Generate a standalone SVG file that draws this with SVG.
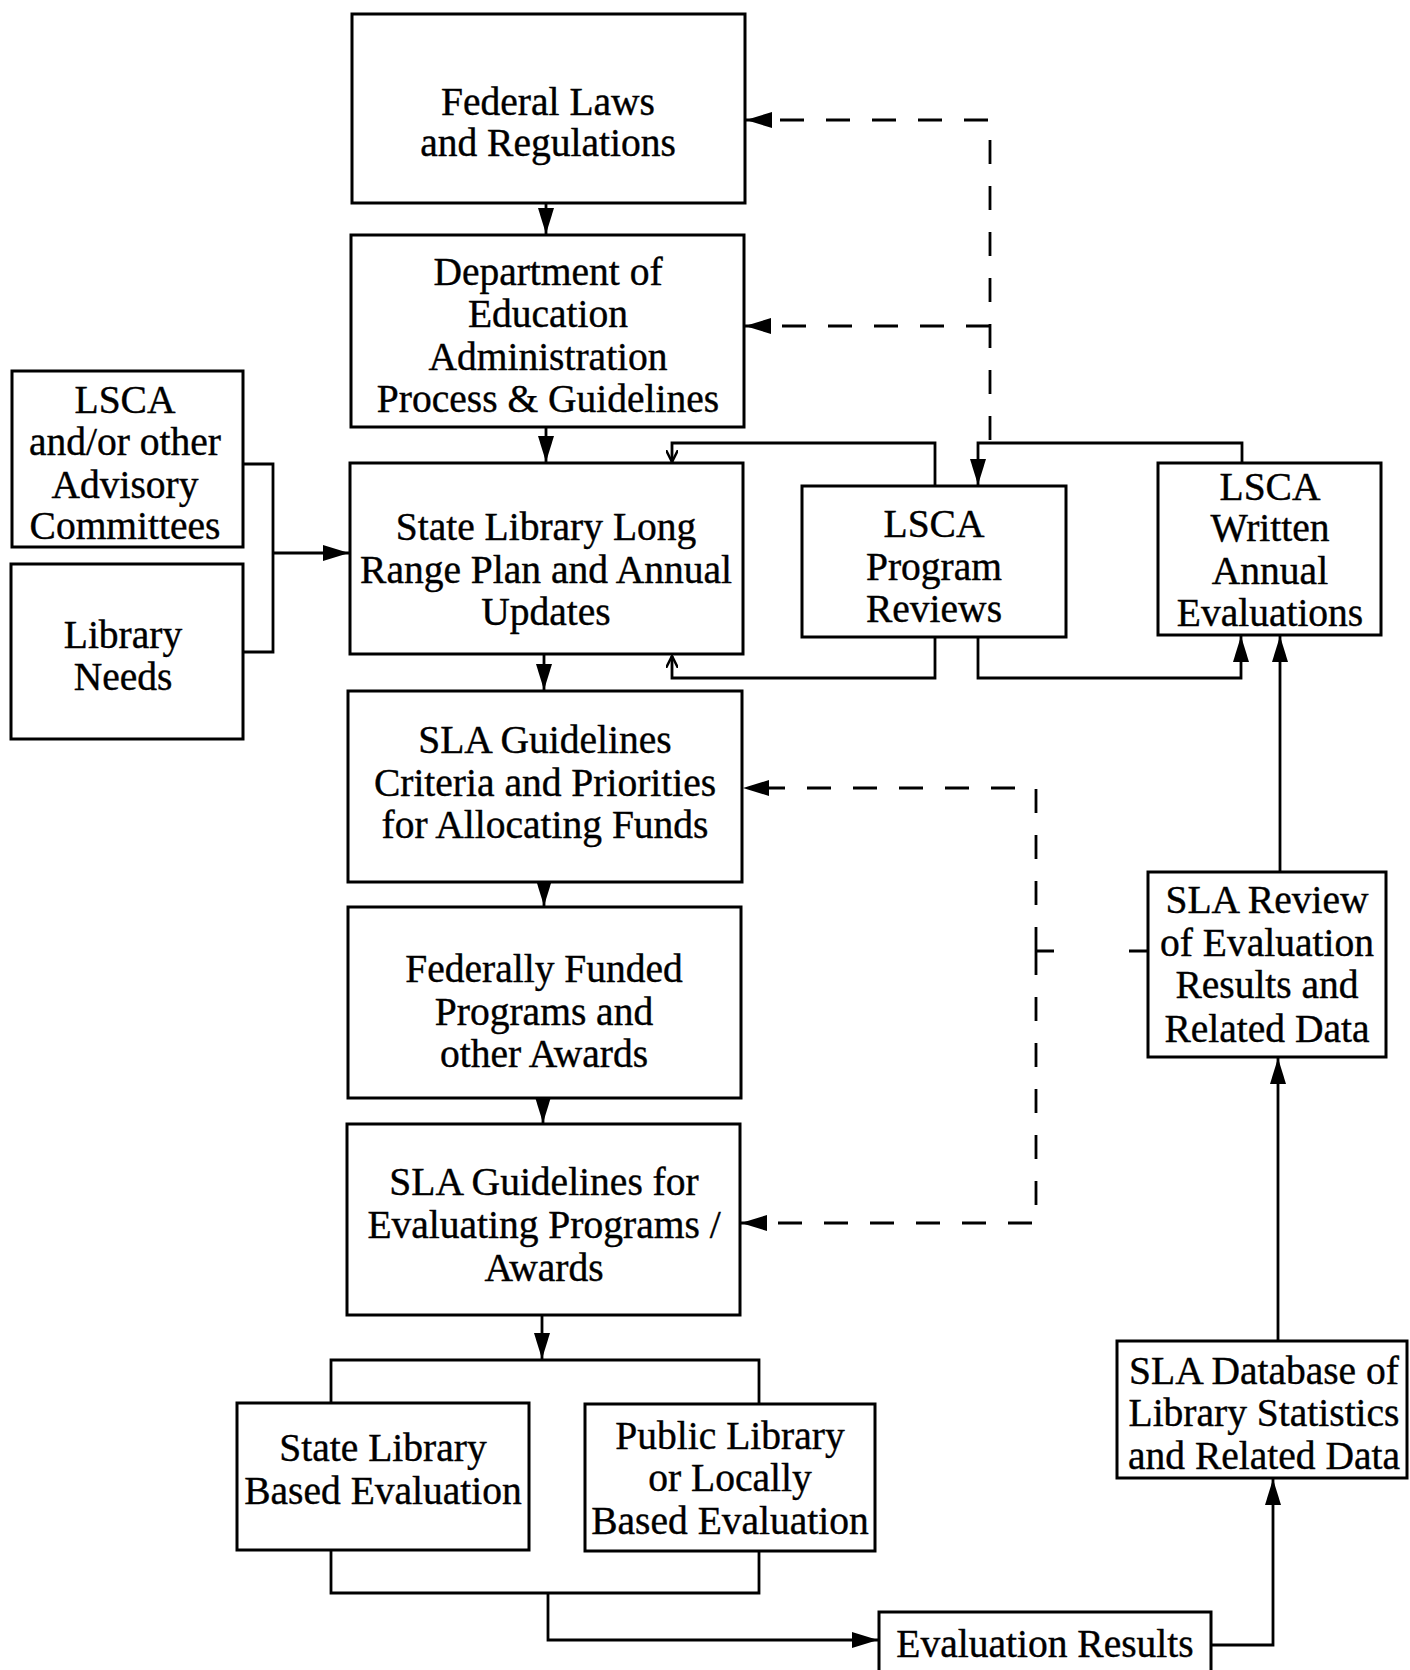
<svg xmlns="http://www.w3.org/2000/svg" width="1410" height="1670" viewBox="0 0 1410 1670">
<style>
.box{fill:#fff;stroke:#000;stroke-width:3}
.t{font-family:"Liberation Serif","Times New Roman",serif;font-size:39.5px;fill:#000;stroke:#000;stroke-width:0.4;text-anchor:middle}
.c{fill:none;stroke:#000;stroke-width:2.8}
.d{fill:none;stroke:#000;stroke-width:2.8;stroke-dasharray:24 22}
</style>
<defs>
<marker id="a" markerUnits="userSpaceOnUse" markerWidth="28" markerHeight="18" refX="26" refY="8" orient="auto">
<path d="M0,0 L26,8 L0,16 z" fill="#000"/>
</marker>
<marker id="s" markerUnits="userSpaceOnUse" markerWidth="14" markerHeight="12" refX="12" refY="6" orient="auto">
<path d="M0,0 L12,6 L0,12" fill="none" stroke="#000" stroke-width="2.5"/>
</marker>
</defs>
<rect width="1410" height="1670" fill="#fff"/>
<g id="connectors">
<path class="c" d="M546 203 V234" marker-end="url(#a)"/>
<path class="c" d="M546 427 V462" marker-end="url(#a)"/>
<path class="c" d="M544 654 V690" marker-end="url(#a)"/>
<path class="c" d="M544 882 V906" marker-end="url(#a)"/>
<path class="c" d="M543 1098 V1123" marker-end="url(#a)"/>
<path class="c" d="M542 1315 V1359" marker-end="url(#a)"/>
<path class="c" d="M331 1403 V1360 H759 V1404"/>
<path class="c" d="M331 1550 V1593 H759 V1551"/>
<path class="c" d="M548 1593 V1640 H878" marker-end="url(#a)"/>
<path class="c" d="M1211 1645 H1273 V1479" marker-end="url(#a)"/>
<path class="c" d="M1278 1341 V1058" marker-end="url(#a)"/>
<path class="c" d="M1280 872 V636" marker-end="url(#a)"/>
<path class="c" d="M243 464 H273 V652 H243"/>
<path class="c" d="M273 553 H349" marker-end="url(#a)"/>
<path class="c" d="M935 486 V443 H672 V462" marker-end="url(#s)"/>
<path class="c" d="M935 637 V678 H672 V656" marker-end="url(#s)"/>
<path class="c" d="M978 637 V678 H1241 V636" marker-end="url(#a)"/>
<path class="c" d="M1242 463 V443 H978 V485" marker-end="url(#a)"/>
<path class="d" d="M990 440 V120 H746" marker-end="url(#a)"/>
<path class="d" d="M990 326 H745" marker-end="url(#a)"/>
<path class="d" d="M1036 951 V788 H743" marker-end="url(#a)"/>
<path class="d" d="M1036 951 V1223 H741" marker-end="url(#a)"/>
<path class="c" d="M1148 951 H1129 M1054 951 H1036"/>
</g>
<g id="federal-laws">
<rect class="box" x="352" y="14" width="393" height="189"/>
<text class="t" x="548" y="115">Federal Laws</text>
<text class="t" x="548" y="156">and Regulations</text>
</g>
<g id="dept-education">
<rect class="box" x="351" y="235" width="393" height="192"/>
<text class="t" x="548" y="285">Department of</text>
<text class="t" x="548" y="327">Education</text>
<text class="t" x="548" y="370">Administration</text>
<text class="t" x="548" y="412">Process &amp; Guidelines</text>
</g>
<g id="advisory-committees">
<rect class="box" x="12" y="371" width="231" height="176"/>
<text class="t" x="125" y="413">LSCA</text>
<text class="t" x="125" y="455">and/or other</text>
<text class="t" x="125" y="498">Advisory</text>
<text class="t" x="125" y="539">Committees</text>
</g>
<g id="library-needs">
<rect class="box" x="11" y="564" width="232" height="175"/>
<text class="t" x="123" y="648">Library</text>
<text class="t" x="123" y="690">Needs</text>
</g>
<g id="state-library-plan">
<rect class="box" x="350" y="463" width="393" height="191"/>
<text class="t" x="546" y="540">State Library Long</text>
<text class="t" x="546" y="583">Range Plan and Annual</text>
<text class="t" x="546" y="625">Updates</text>
</g>
<g id="program-reviews">
<rect class="box" x="802" y="486" width="264" height="151"/>
<text class="t" x="934" y="537">LSCA</text>
<text class="t" x="934" y="580">Program</text>
<text class="t" x="934" y="622">Reviews</text>
</g>
<g id="written-evaluations">
<rect class="box" x="1158" y="463" width="223" height="172"/>
<text class="t" x="1270" y="500">LSCA</text>
<text class="t" x="1270" y="541">Written</text>
<text class="t" x="1270" y="584">Annual</text>
<text class="t" x="1270" y="626">Evaluations</text>
</g>
<g id="sla-guidelines-funds">
<rect class="box" x="348" y="691" width="394" height="191"/>
<text class="t" x="545" y="753">SLA Guidelines</text>
<text class="t" x="545" y="796">Criteria and Priorities</text>
<text class="t" x="545" y="838">for Allocating Funds</text>
</g>
<g id="funded-programs">
<rect class="box" x="348" y="907" width="393" height="191"/>
<text class="t" x="544" y="982">Federally Funded</text>
<text class="t" x="544" y="1025">Programs and</text>
<text class="t" x="544" y="1067">other Awards</text>
</g>
<g id="sla-guidelines-eval">
<rect class="box" x="347" y="1124" width="393" height="191"/>
<text class="t" x="544" y="1195">SLA Guidelines for</text>
<text class="t" x="544" y="1238">Evaluating Programs /</text>
<text class="t" x="544" y="1281">Awards</text>
</g>
<g id="state-based-eval">
<rect class="box" x="237" y="1403" width="292" height="147"/>
<text class="t" x="383" y="1461">State Library</text>
<text class="t" x="383" y="1504">Based Evaluation</text>
</g>
<g id="local-eval">
<rect class="box" x="585" y="1404" width="290" height="147"/>
<text class="t" x="730" y="1449">Public Library</text>
<text class="t" x="730" y="1491">or Locally</text>
<text class="t" x="730" y="1534">Based Evaluation</text>
</g>
<g id="evaluation-results">
<rect class="box" x="879" y="1612" width="332" height="60"/>
<text class="t" x="1045" y="1657">Evaluation Results</text>
</g>
<g id="sla-database">
<rect class="box" x="1117" y="1341" width="290" height="137"/>
<text class="t" x="1264" y="1384">SLA Database of</text>
<text class="t" x="1264" y="1426">Library Statistics</text>
<text class="t" x="1264" y="1469">and Related Data</text>
</g>
<g id="sla-review">
<rect class="box" x="1148" y="872" width="238" height="185"/>
<text class="t" x="1267" y="913">SLA Review</text>
<text class="t" x="1267" y="956">of Evaluation</text>
<text class="t" x="1267" y="998">Results and</text>
<text class="t" x="1267" y="1042">Related Data</text>
</g>
</svg>
